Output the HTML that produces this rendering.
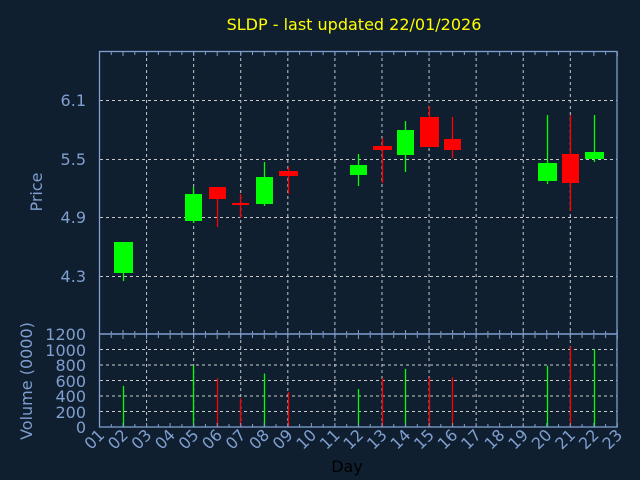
<!DOCTYPE html>
<html><head><meta charset="utf-8"><style>
html,body{margin:0;padding:0;background:#101f30;}
svg{display:block;font-family:"DejaVu Sans","Liberation Sans",sans-serif;}
</style></head><body>
<svg id="s" width="640" height="480" xmlns="http://www.w3.org/2000/svg">
<rect width="640" height="480" fill="#101f30"/>
<text x="354" y="30" fill="#ffff00" font-size="16" text-anchor="middle">SLDP - last updated 22/01/2026</text>
<g id="grid" stroke="#c8c8c8" stroke-width="1" stroke-dasharray="3,3"></g>
<g id="bars"></g>
<g id="axes" stroke="#7f9fcf" stroke-width="1.3" fill="none">
<rect x="99.5" y="51.5" width="517.5" height="282.5"/>
<rect x="99.5" y="334" width="517.5" height="93"/>
</g>
<g id="ticks" stroke="#7f9fcf" stroke-width="1"></g>
<g fill="#7f9fcf" font-size="16" text-anchor="end">
<text x="86" y="106">6.1</text>
<text x="86" y="165">5.5</text>
<text x="86" y="223">4.9</text>
<text x="86" y="282">4.3</text>
<text x="86" y="340">1200</text>
<text x="86" y="356">1000</text>
<text x="86" y="371">800</text>
<text x="86" y="387">600</text>
<text x="86" y="402">400</text>
<text x="86" y="418">200</text>
<text x="86" y="433">0</text>
</g>
<text transform="translate(42,192) rotate(-90)" fill="#7f9fcf" font-size="16" text-anchor="middle">Price</text>
<text transform="translate(32,381) rotate(-90)" fill="#7f9fcf" font-size="16" text-anchor="middle">Volume (0000)</text>
<g id="xl" fill="#7f9fcf" font-size="16"></g>
<text x="347" y="472" fill="#000" font-size="16" text-anchor="middle">Day</text>
</svg>
<script>
var ns="http://www.w3.org/2000/svg";
function el(p,t,a){var e=document.createElementNS(ns,t);for(var k in a)e.setAttribute(k,a[k]);document.getElementById(p).appendChild(e);return e;}
function X(d){return 99.5+(d-1)*23.54;}
// grid
for(var d=3;d<=21;d+=2){var x=X(d);el("grid","line",{x1:x,y1:52,x2:x,y2:334});el("grid","line",{x1:x,y1:334,x2:x,y2:427});}
[100,159,217,276].forEach(function(y){el("grid","line",{x1:100,y1:y+.5,x2:617,y2:y+.5});});
for(var v=200;v<=1000;v+=200){var y=427-v*93/1200;el("grid","line",{x1:100,y1:y,x2:617,y2:y});}
// ticks
for(var i=0;i<=44;i++){var x=99.5+i*11.77;var L=(i%2==0)?4:3;
el("ticks","line",{x1:x,y1:52,x2:x,y2:52+L});el("ticks","line",{x1:x,y1:334,x2:x,y2:334-L});
el("ticks","line",{x1:x,y1:335,x2:x,y2:335+L});el("ticks","line",{x1:x,y1:427,x2:x,y2:427-L});}
// x labels
for(var d=1;d<=23;d++){var x=X(d);var t=el("xl","text",{transform:"translate("+(x+6)+",436) rotate(-45)","text-anchor":"end"});t.textContent=(d<10?"0":"")+d;}
// candles: [x0,x1,bodyTop,bodyBot,wickTop,wickBot,color]
var G="#00ff00",R="#ff0000";
var c=[[114,133,242,273,242,281,G],[185,202,194,221,187,223,G],[209,226,187,199,187,227,R],[232,249,203,205,194,218,R],
[256,273,177,204,162,206,G],[279,298,171,176,167,194,R],[350,367,165,175,154,186,G],[373,392,146,150,138,183,R],
[397,414,130,155,121,172,G],[420,439,117,147,106,147,R],[444,461,139,150,117,158,R],[538,557,163,181,115,184,G],
[562,579,154,183,115,211,R],[585,604,152,159,115,162,G]];
c.forEach(function(k){var cx=(k[0]+k[1])/2;
el("bars","line",{x1:cx,y1:k[4],x2:cx,y2:k[5],stroke:k[6],"stroke-width":1.3});
el("bars","rect",{x:k[0],y:k[2],width:k[1]-k[0],height:Math.max(2,k[3]-k[2]),fill:k[6]});});
// volume
var vol=[[2,530,G],[5,790,G],[6,630,R],[7,370,R],[8,690,G],[9,450,R],[12,490,G],[13,630,R],[14,750,G],[15,640,R],[16,640,R],[20,790,G],[21,1040,R],[22,1000,G]];
vol.forEach(function(v){var x=[0,0,123.5,0,0,193.5,217.5,240.5,264.5,288.5,0,0,358.5,382.5,405.5,429.5,452.5,0,0,0,547.5,570.5,594.5][v[0]];
el("bars","line",{x1:x,y1:427,x2:x,y2:427-v[1]*93/1200,stroke:v[2],"stroke-width":1.3});});
</script>
</body></html>
